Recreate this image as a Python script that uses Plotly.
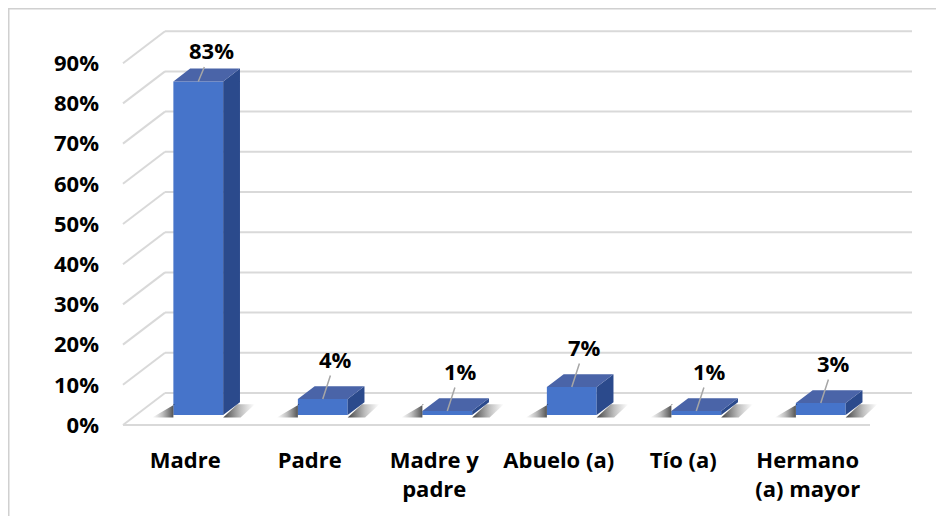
import plotly.graph_objects as go

# ---------------- data ----------------
categories = ["Madre", "Padre", "Madre y<br>padre", "Abuelo (a)", "Tío (a)", "Hermano<br>(a) mayor"]
values = [83, 4, 1, 7, 1, 3]
value_labels = ["83%", "4%", "1%", "7%", "1%", "3%"]
y_tick_values = [0, 10, 20, 30, 40, 50, 60, 70, 80, 90]
y_tick_labels = ["0%", "10%", "20%", "30%", "40%", "50%", "60%", "70%", "80%", "90%"]

# ---------------- geometry / style ----------------
# the page body has an 8px margin, so the figure is drawn from (8, 8)
W, H = 936, 508
L, R, T, B = 92, 922, 12, 437           # plot area in figure pixels
PX_PER_CAT = 124.5
PX_PER_PCT = 4.02
X0_PX = 177.25                           # pixel of category 0 centre
Y0_PX = 417                              # pixel of 0% on the front plane

DX = 42 / PX_PER_CAT                     # depth vector (floor front -> back wall)
DY = 32 / PX_PER_PCT
D0, D1 = 0.31, 0.71                      # bar front / back depth
BW = 0.40                                # bar width (category units)

FONT = "Open Sans"
GRID = "#d9d9d9"
FRONT = "#4674ca"
SIDE = "#2b4a8c"
TOP = "#4a64a8"
SHADOW_IN = [[0, "rgba(60,60,60,0)"], [0.45, "rgba(40,40,40,0.3)"], [1, "rgba(20,20,20,0.8)"]]
SHADOW_OUT = [[0, "rgba(20,20,20,0.8)"], [0.55, "rgba(40,40,40,0.3)"], [1, "rgba(60,60,60,0)"]]

n = len(categories)
xs = list(range(n))
x_front = [i + D0 * DX for i in xs]
base = D0 * DY
tops = [base + v for v in values]
bdx = (D1 - D0) * DX
bdy = (D1 - D0) * DY

fig = go.Figure()

# soft shadows on the floor, left and right of each bar
for i in xs:
    xl = x_front[i] - BW / 2
    xr = x_front[i] + BW / 2
    sl, sr = 0.17, 0.14
    y0, y1 = base - 0.6, base + bdy * 0.85
    fig.add_trace(go.Scatter(
        x=[xl - sl, xl, xl, xl + bdx * 0.85 - sl * 0.6, xl - sl],
        y=[y0, y0, y1, y1, y0],
        mode="lines", fill="toself", line=dict(width=0),
        fillgradient=dict(type="horizontal", colorscale=SHADOW_IN),
        hoverinfo="skip", showlegend=False))
    fig.add_trace(go.Scatter(
        x=[xr, xr + sr, xr + bdx * 0.85 + sr, xr + bdx * 0.85, xr],
        y=[y0, y0, y1, y1, y0],
        mode="lines", fill="toself", line=dict(width=0),
        fillgradient=dict(type="horizontal", colorscale=SHADOW_OUT),
        hoverinfo="skip", showlegend=False))

# front faces
fig.add_trace(go.Bar(
    x=x_front, y=values, base=[base] * n, width=BW,
    marker=dict(color=FRONT, line=dict(width=0)),
    hoverinfo="skip", showlegend=False))

# side faces
sx, sy = [], []
for i in xs:
    xr = x_front[i] + BW / 2
    sx += [xr, xr + bdx, xr + bdx, xr, xr, None]
    sy += [base, base + bdy, tops[i] + bdy, tops[i], base, None]
fig.add_trace(go.Scatter(
    x=sx, y=sy, mode="lines", fill="toself", fillcolor=SIDE,
    line=dict(width=0), hoverinfo="skip", showlegend=False))

# top faces
tx, ty = [], []
for i in xs:
    xl = x_front[i] - BW / 2
    xr = x_front[i] + BW / 2
    tx += [xl, xl + bdx, xr + bdx, xr, xl, None]
    ty += [tops[i], tops[i] + bdy, tops[i] + bdy, tops[i], tops[i], None]
fig.add_trace(go.Scatter(
    x=tx, y=ty, mode="lines", fill="toself", fillcolor=TOP,
    line=dict(width=0), hoverinfo="skip", showlegend=False))

# gridlines: back wall, side wall, floor front edge
shapes = []
x_left = -0.5
x_right = n - 0.5
for v in y_tick_values:
    shapes.append(dict(type="line", xref="x", yref="y", layer="below",
                       x0=x_left + DX, x1=x_right + DX, y0=v + DY, y1=v + DY,
                       line=dict(color=GRID, width=2)))
    shapes.append(dict(type="line", xref="x", yref="y", layer="below",
                       x0=x_left, x1=x_left + DX, y0=v, y1=v + DY,
                       line=dict(color=GRID, width=2)))
shapes.append(dict(type="line", xref="x", yref="y", layer="below",
                   x0=x_left, x1=x_right, y0=0, y1=0,
                   line=dict(color=GRID, width=2)))
# chart border (at the figure's left and top edge)
pw, ph = R - L, B - T
shapes.append(dict(type="rect", xref="paper", yref="paper", layer="below",
                   x0=(0.75 - L) / pw, x1=(W + 20 - L) / pw,
                   y0=(B - H - 20) / ph, y1=(B - 0.75) / ph,
                   line=dict(color="#d0d0d0", width=1.5)))

# data labels with leader lines
label_shift = [(13, -31)] + [(13, -40)] * (n - 1)
annotations = []
for i in xs:
    annotations.append(dict(
        x=x_front[i], y=tops[i], xref="x", yref="y",
        text=value_labels[i], showarrow=True, arrowhead=0,
        arrowcolor="#a6a6a6", arrowwidth=1.5, standoff=0,
        ax=label_shift[i][0], ay=label_shift[i][1],
        font=dict(family=FONT, size=22, color="black", weight="bold")))

fig.update_layout(
    width=W, height=H, autosize=False,
    margin=dict(l=L, r=W - R, t=T, b=H - B, pad=0),
    paper_bgcolor="white", plot_bgcolor="white",
    font=dict(family=FONT, size=22, color="black", weight="bold"),
    shapes=shapes, annotations=annotations, showlegend=False,
    xaxis=dict(range=[(L - X0_PX) / PX_PER_CAT, (R - X0_PX) / PX_PER_CAT],
               tickvals=xs, ticktext=categories, showgrid=False,
               zeroline=False, showline=False, ticks="",
               tickfont=dict(family=FONT, size=22, color="black", weight="bold")),
    yaxis=dict(range=[(Y0_PX - B) / PX_PER_PCT, (Y0_PX - T) / PX_PER_PCT],
               tickvals=y_tick_values, ticktext=y_tick_labels, showgrid=False,
               zeroline=False, showline=False, ticks="",
               tickfont=dict(family=FONT, size=22, color="black", weight="bold")),
)

fig.write_html("out.html")
